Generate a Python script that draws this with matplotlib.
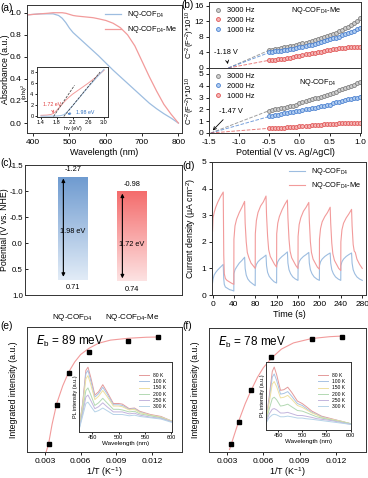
import matplotlib
matplotlib.use('Agg')
import matplotlib.pyplot as plt
import numpy as np

plt.rcParams['font.family'] = ['Liberation Sans', 'DejaVu Sans']
plt.rcParams['mathtext.default'] = 'regular'
plt.rcParams['axes.unicode_minus'] = False
plt.rcParams['axes.linewidth'] = 0.7
plt.rcParams['axes.edgecolor'] = '#333333'
for a in ('xtick', 'ytick'):
    plt.rcParams[a + '.major.size'] = 2.5
    plt.rcParams[a + '.major.width'] = 0.6
    plt.rcParams[a + '.labelsize'] = 6
    plt.rcParams[a + '.major.pad'] = 1.6
plt.rcParams['axes.labelsize'] = 6.5
plt.rcParams['axes.labelpad'] = 1.5

D4 = r'NQ-COF$_{D4}$'
D4Me = r'NQ-COF$_{D4}$-Me'

# ---------------- (a) absorbance ----------------
wl = [383, 400, 420, 440, 455, 470, 480, 490, 500, 510, 520, 535, 550, 565, 580, 600, 620, 640, 660, 680, 700, 720, 740, 760, 780, 800]
abs_d4 = [0.98, 0.985, 0.99, 0.99, 0.99, 0.975, 0.95, 0.91, 0.86, 0.82, 0.79, 0.745, 0.70, 0.655, 0.61, 0.545, 0.48, 0.42, 0.36, 0.30, 0.24, 0.18, 0.13, 0.085, 0.045, 0.0]
abs_me = [0.98, 0.985, 0.99, 0.995, 1.0, 1.0, 1.0, 0.995, 0.985, 0.975, 0.97, 0.965, 0.96, 0.955, 0.945, 0.93, 0.905, 0.865, 0.80, 0.70, 0.56, 0.42, 0.29, 0.17, 0.08, 0.0]
hv_me = [1.4, 1.55, 1.65, 1.72, 1.8, 1.9, 2.0, 2.1, 2.2, 2.4, 2.6, 2.8, 3.0]
tauc_me = [0.2, 0.25, 0.35, 0.55, 1.1, 1.9, 2.7, 3.4, 4.0, 5.0, 6.0, 7.1, 8.3]
hv_d4 = [1.4, 1.6, 1.8, 1.9, 1.98, 2.05, 2.1, 2.2, 2.4, 2.6, 2.8, 3.0]
tauc_d4 = [0.05, 0.05, 0.08, 0.15, 0.3, 0.7, 1.1, 1.9, 3.6, 5.3, 6.9, 8.5]
eg_me, eg_d4 = 1.72, 1.98

# ---------------- (b) Mott-Schottky ----------------
pot = [round(-0.5 + 0.05 * i, 2) for i in range(31)]
ms_me_3000 = [4.6, 4.75, 4.9, 5.0, 5.15, 5.3, 5.45, 5.6, 5.75, 5.95, 6.15, 6.35, 6.55, 6.75, 6.95, 7.2, 7.45, 7.7, 7.95, 8.2, 8.5, 8.8, 9.1, 9.45, 9.8, 10.2, 10.6, 11.1, 11.6, 12.2, 12.9]
ms_me_2000 = [2.0, 2.05, 2.1, 2.2, 2.3, 2.4, 2.55, 2.7, 2.85, 3.0, 3.2, 3.35, 3.5, 3.65, 3.8, 3.95, 4.1, 4.25, 4.4, 4.55, 4.7, 4.85, 4.95, 5.05, 5.15, 5.25, 5.3, 5.35, 5.4, 5.4, 5.35]
ms_me_1000 = [4.0, 4.15, 4.3, 4.4, 4.5, 4.6, 4.7, 4.85, 5.0, 5.15, 5.3, 5.45, 5.6, 5.8, 6.0, 6.2, 6.4, 6.6, 6.85, 7.1, 7.35, 7.6, 7.85, 8.1, 8.4, 8.7, 9.0, 9.3, 9.65, 10.0, 10.4]
ms_d4_3000 = [1.9, 1.95, 2.0, 2.05, 2.1, 2.15, 2.2, 2.25, 2.3, 2.4, 2.5, 2.6, 2.7, 2.8, 2.9, 2.95, 3.0, 3.05, 3.1, 3.2, 3.3, 3.4, 3.5, 3.6, 3.7, 3.8, 3.9, 4.0, 4.1, 4.2, 4.3]
ms_d4_2000 = [1.4, 1.45, 1.5, 1.55, 1.6, 1.65, 1.7, 1.75, 1.8, 1.85, 1.9, 1.95, 2.0, 2.05, 2.1, 2.15, 2.2, 2.25, 2.3, 2.35, 2.4, 2.5, 2.6, 2.65, 2.7, 2.8, 2.85, 2.9, 2.95, 3.0, 3.05]
ms_d4_1000 = [0.4, 0.41, 0.42, 0.43, 0.44, 0.46, 0.48, 0.5, 0.52, 0.54, 0.56, 0.58, 0.6, 0.62, 0.64, 0.66, 0.68, 0.7, 0.72, 0.74, 0.76, 0.78, 0.8, 0.81, 0.82, 0.83, 0.84, 0.85, 0.85, 0.86, 0.86]
efb_me, efb_d4 = -1.18, -1.47

# ---------------- (c) band positions ----------------
materials = [D4, D4Me]
cb = [-1.27, -0.98]
vb = [0.71, 0.74]
gaps = ['1.98 eV', '1.72 eV']

# ---------------- (d) photocurrent ----------------
t_me = [0, 1, 3, 6, 10, 15, 20, 21, 22, 24, 27, 31, 35, 39.8,
        40, 42, 45, 50, 55, 60, 61, 63, 65, 68, 72, 76, 79.8,
        80, 82, 85, 90, 95, 100, 101, 103, 105, 108, 112, 116, 119.8,
        120, 122, 125, 130, 135, 140, 141, 143, 145, 148, 152, 156, 159.8,
        160, 162, 165, 170, 175, 180, 181, 183, 185, 188, 192, 196, 199.8,
        200, 202, 205, 210, 215, 220, 221, 223, 225, 228, 232, 236, 239.8,
        240, 242, 245, 250, 255, 260, 261, 263, 265, 267, 270, 275, 280]
j_me = [2.4, 2.9, 3.1, 3.3, 3.5, 3.7, 3.87, 1.5, 0.8, 0.62, 0.55, 0.5, 0.45, 0.4,
        2.1, 2.6, 2.85, 3.1, 3.3, 3.52, 2.7, 2.0, 1.6, 1.4, 1.2, 1.1, 1.0,
        2.3, 2.8, 3.1, 3.35, 3.5, 3.72, 3.0, 2.2, 1.7, 1.45, 1.3, 1.15, 1.05,
        2.3, 2.7, 2.95, 3.2, 3.4, 3.57, 2.9, 2.1, 1.65, 1.4, 1.25, 1.1, 1.0,
        2.2, 2.65, 2.9, 3.15, 3.3, 3.48, 2.8, 2.0, 1.6, 1.35, 1.2, 1.05, 0.97,
        2.1, 2.5, 2.75, 2.95, 3.1, 3.3, 2.7, 1.95, 1.55, 1.3, 1.15, 1.0, 0.92,
        2.0, 2.45, 2.7, 2.9, 3.05, 3.22, 2.6, 1.9, 1.65, 1.6, 1.35, 1.15, 1.0]
t_d4 = [0, 1, 3, 6, 10, 15, 20, 21, 22, 24, 28, 32, 36, 39.8,
        40, 42, 45, 50, 55, 60, 61, 63, 66, 70, 75, 79.8,
        80, 82, 85, 90, 95, 100, 101, 103, 106, 110, 115, 119.8,
        120, 122, 125, 130, 135, 140, 141, 143, 146, 150, 155, 159.8,
        160, 162, 165, 170, 175, 180, 181, 183, 186, 190, 195, 199.8,
        200, 202, 205, 210, 215, 220, 221, 223, 226, 230, 235, 239.8,
        240, 242, 245, 250, 255, 260, 261, 263, 266, 270, 275, 280]
j_d4 = [0.45, 0.6, 0.75, 0.85, 0.95, 1.05, 1.15, 0.6, 0.4, 0.3, 0.25, 0.2, 0.18, 0.15,
        0.8, 0.95, 1.05, 1.2, 1.3, 1.42, 1.0, 0.75, 0.6, 0.5, 0.42, 0.35,
        1.0, 1.15, 1.25, 1.35, 1.42, 1.5, 1.1, 0.85, 0.7, 0.6, 0.5, 0.45,
        1.1, 1.25, 1.35, 1.45, 1.53, 1.62, 1.2, 0.95, 0.8, 0.68, 0.6, 0.55,
        1.1, 1.25, 1.35, 1.45, 1.52, 1.6, 1.2, 0.95, 0.8, 0.68, 0.6, 0.55,
        1.1, 1.25, 1.35, 1.45, 1.52, 1.58, 1.2, 0.95, 0.8, 0.68, 0.6, 0.55,
        1.1, 1.25, 1.35, 1.45, 1.52, 1.58, 1.2, 0.95, 0.8, 0.68, 0.6, 0.55]

# ---------------- (e)/(f) exciton binding ----------------
inv_T = [1 / 300, 1 / 250, 1 / 200, 1 / 150, 1 / 100, 1 / 80]
int_e = [0.066, 0.38, 0.63, 0.80, 0.89, 0.92]
int_f = [0.066, 0.24, 0.50, 0.77, 0.91, 0.93]
fit_e_x = [0.0031, 0.0033, 0.0036, 0.004, 0.0045, 0.005, 0.0055, 0.006, 0.0067, 0.0075, 0.0085, 0.01, 0.0115, 0.0125]
fit_e_y = [0.0, 0.06, 0.22, 0.39, 0.53, 0.64, 0.72, 0.78, 0.83, 0.87, 0.895, 0.91, 0.918, 0.92]
fit_f_x = [0.0032, 0.0035, 0.004, 0.0045, 0.005, 0.0055, 0.006, 0.0067, 0.0075, 0.0085, 0.01, 0.0115, 0.0125]
fit_f_y = [0.02, 0.11, 0.26, 0.39, 0.50, 0.60, 0.68, 0.76, 0.83, 0.88, 0.915, 0.93, 0.935]
temps = ['80 K', '100 K', '150 K', '200 K', '250 K', '300 K']
pl_wl = [425, 432, 438, 442, 447, 455, 462, 470, 478, 490, 500, 507, 520, 530, 540, 560, 580, 600]
pl_e = [
    [0.05, 0.45, 0.95, 1.0, 0.85, 0.57, 0.62, 0.73, 0.62, 0.44, 0.44, 0.43, 0.36, 0.37, 0.32, 0.27, 0.24, 0.17],
    [0.05, 0.43, 0.9, 0.95, 0.8, 0.54, 0.59, 0.69, 0.59, 0.42, 0.42, 0.41, 0.35, 0.36, 0.31, 0.26, 0.23, 0.17],
    [0.05, 0.40, 0.82, 0.87, 0.74, 0.50, 0.55, 0.64, 0.55, 0.40, 0.40, 0.39, 0.34, 0.35, 0.30, 0.26, 0.23, 0.17],
    [0.04, 0.33, 0.64, 0.68, 0.58, 0.41, 0.45, 0.52, 0.45, 0.35, 0.35, 0.34, 0.31, 0.32, 0.28, 0.25, 0.22, 0.16],
    [0.04, 0.29, 0.54, 0.57, 0.49, 0.36, 0.39, 0.45, 0.39, 0.31, 0.31, 0.31, 0.28, 0.29, 0.26, 0.23, 0.21, 0.16],
    [0.03, 0.25, 0.44, 0.46, 0.40, 0.31, 0.33, 0.37, 0.33, 0.27, 0.27, 0.27, 0.25, 0.26, 0.24, 0.22, 0.20, 0.15]]
pl_f = [
    [0.15, 0.55, 0.93, 1.0, 0.88, 0.63, 0.64, 0.68, 0.6, 0.46, 0.42, 0.38, 0.3, 0.26, 0.22, 0.18, 0.14, 0.1],
    [0.14, 0.5, 0.84, 0.89, 0.79, 0.57, 0.58, 0.61, 0.54, 0.42, 0.39, 0.35, 0.28, 0.25, 0.21, 0.17, 0.14, 0.1],
    [0.14, 0.45, 0.73, 0.77, 0.69, 0.51, 0.52, 0.55, 0.49, 0.39, 0.36, 0.33, 0.27, 0.24, 0.2, 0.17, 0.14, 0.1],
    [0.13, 0.34, 0.5, 0.52, 0.48, 0.38, 0.39, 0.41, 0.37, 0.31, 0.3, 0.28, 0.24, 0.21, 0.19, 0.16, 0.13, 0.1],
    [0.12, 0.26, 0.33, 0.34, 0.32, 0.27, 0.27, 0.28, 0.26, 0.23, 0.23, 0.22, 0.2, 0.18, 0.17, 0.15, 0.12, 0.09],
    [0.11, 0.2, 0.24, 0.25, 0.24, 0.21, 0.21, 0.22, 0.21, 0.19, 0.19, 0.18, 0.17, 0.16, 0.15, 0.13, 0.11, 0.09]]

# ---------------- styles ----------------
C_BLUE = '#9dbde0'
C_RED = '#f29b9b'
T_COLORS = ['#e49a9a', '#a9c3e3', '#efe0a0', '#b3d9b3', '#c3b5dd', '#b6d3e8']

fig = plt.figure(figsize=(3.68, 4.78), dpi=100)
W, H = 368.0, 478.0


def ax_px(l, t, r, b):
    return fig.add_axes([l / W, 1 - b / H, (r - l) / W, (b - t) / H])


def plabel(x, y, s):
    fig.text(x / W, 1 - y / H, s, fontsize=7.3, va='center', ha='left')


def ylab_at(a, text, xpx, fs=6.3):
    # centre of the rotated y label at figure pixel column xpx
    a.set_ylabel(text, fontsize=fs, va='center')
    pos = a.get_position()
    a.yaxis.set_label_coords((xpx / W - pos.x0) / pos.width, 0.5)


# ---- (a)
ax = ax_px(27, 5, 182, 133)
ax.plot(wl, abs_d4, color=C_BLUE, lw=0.9, label=D4)
ax.plot(wl, abs_me, color=C_RED, lw=0.9, label=D4Me)
ax.set_xlim(383, 810)
ax.set_ylim(-0.09, 1.07)
ax.set_xticks([400, 500, 600, 700, 800])
ax.set_yticks([0.0, 0.2, 0.4, 0.6, 0.8, 1.0])
ax.set_xlabel('Wavelength (nm)')
ylab_at(ax, 'Absorbance (a.u.)', 6)
ax.legend(loc='upper right', frameon=False, fontsize=5.3, handlelength=2.2,
          borderaxespad=0.2, labelspacing=0.5)
plabel(0, 8, '(a)')

ins = ax_px(37, 67, 108, 117)
ins.plot(hv_me, tauc_me, color=C_RED, lw=0.7)
ins.plot(hv_d4, tauc_d4, color=C_BLUE, lw=0.7)
ins.plot([eg_me, 2.25], [0, 5.6], color='#333333', lw=0.5, ls='--')
ins.plot([eg_d4, 2.9], [0, 8.0], color='#333333', lw=0.5, ls='--')
ins.set_xlim(1.3, 3.1)
ins.set_ylim(-0.1, 8.9)
ins.set_xticks([1.4, 1.8, 2.2, 2.6, 3.0])
ins.set_yticks([0, 2, 4, 6, 8])
ins.tick_params(labelsize=4, length=1.5, pad=1)
ins.set_xlabel('hv (eV)', fontsize=4, labelpad=0.5)
ins.set_ylabel(r'$(\alpha hv)^2$', fontsize=4, labelpad=0.5)
ins.annotate('1.72 eV', xy=(eg_me, 0.1), xytext=(1.45, 1.8), fontsize=3.8, color='#e04040',
             arrowprops=dict(arrowstyle='->', color='#e04040', lw=0.5))
ins.annotate('1.98 eV', xy=(eg_d4 + 0.02, 0.4), xytext=(2.3, 0.5), fontsize=3.8, color='#3070c0',
             arrowprops=dict(arrowstyle='->', color='#3070c0', lw=0.5))

# ---- (b)
MS_GRAY, MS_RED, MS_BLUE = '#7f7f7f', '#e05555', '#4a80d0'
MF_GRAY, MF_RED, MF_BLUE = '#cfcfcf', '#f5b5b5', '#b0cdf0'


def ms_plot(axm, y, c, fc, lab, efb):
    axm.plot([efb, pot[0]], [0, y[0]], ls='--', color=c, lw=0.7, alpha=0.75)
    axm.plot(pot, y, ls='none', marker='o', ms=2.8, mec=c, mfc=fc, mew=0.6, label=lab)


bt = ax_px(209, 2, 361, 68)
ms_plot(bt, ms_me_3000, MS_GRAY, MF_GRAY, '3000 Hz', efb_me)
ms_plot(bt, ms_me_2000, MS_RED, MF_RED, '2000 Hz', efb_me)
ms_plot(bt, ms_me_1000, MS_BLUE, MF_BLUE, '1000 Hz', efb_me)
bt.set_xlim(-1.5, 1.02)
bt.set_ylim(0, 17)
bt.set_yticks([0, 4, 8, 12, 16])
bt.set_xticks([-1.5, -1.0, -0.5, 0.0, 0.5, 1.0])
bt.tick_params(labelbottom=False)
ylab_at(bt, r'C$^{-2}$(F$^{-2}$)*10$^{10}$', 190, 5.6)
bt.legend(loc='upper left', frameon=False, fontsize=5.3, handlelength=1.0, handletextpad=0.8,
          labelspacing=0.35, borderaxespad=0.3)
bt.text(0.27, 14.7, D4Me, fontsize=5.3, ha='center', va='center')
bt.annotate('-1.18 V', xy=(efb_me, 0.3), xytext=(-1.42, 3.6), fontsize=5.3,
            arrowprops=dict(arrowstyle='->', color='black', lw=0.6))

bb = ax_px(209, 68, 361, 133)
ms_plot(bb, ms_d4_3000, MS_GRAY, MF_GRAY, '3000 Hz', efb_d4)
ms_plot(bb, ms_d4_2000, MS_BLUE, MF_BLUE, '2000 Hz', efb_d4)
ms_plot(bb, ms_d4_1000, MS_RED, MF_RED, '1000 Hz', efb_d4)
bb.set_xlim(-1.5, 1.02)
bb.set_ylim(0, 5.5)
bb.set_yticks([0, 1, 2, 3, 4, 5])
bb.set_xticks([-1.5, -1.0, -0.5, 0.0, 0.5, 1.0])
bb.set_xlabel('Potential (V vs. Ag/AgCl)')
ylab_at(bb, r'C$^{-2}$(F$^{-2}$)*10$^{10}$', 190, 5.6)
bb.legend(loc='upper left', frameon=False, fontsize=5.3, handlelength=1.0, handletextpad=0.8,
          labelspacing=0.35, borderaxespad=0.3)
bb.text(0.3, 4.3, D4, fontsize=5.3, ha='center', va='center')
bb.annotate('-1.47 V', xy=(efb_d4, 0.05), xytext=(-1.33, 1.7), fontsize=5.3,
            arrowprops=dict(arrowstyle='->', color='black', lw=0.6))
plabel(181, 5, '(b)')

# ---- (c)
axc = ax_px(25, 165, 182, 295)
grad = np.linspace(0, 1, 256).reshape(-1, 1)
cmaps = [matplotlib.colors.LinearSegmentedColormap.from_list('b', ['#6f9bd0', '#e2ecf7']),
         matplotlib.colors.LinearSegmentedColormap.from_list('r', ['#f46c6c', '#fde3e3'])]
bw = 0.5
for i in range(2):
    axc.imshow(grad, extent=(i - bw / 2, i + bw / 2, vb[i], cb[i]), origin='upper',
               aspect='auto', cmap=cmaps[i], zorder=1)
    axc.annotate('', xy=(i - 0.16, cb[i] + 0.03), xytext=(i - 0.16, vb[i] - 0.06),
                 arrowprops=dict(arrowstyle='<|-|>', color='black', lw=0.8, mutation_scale=5,
                                 shrinkA=0, shrinkB=0))
    axc.text(i, cb[i] - 0.08, f'{cb[i]:.2f}', ha='center', va='bottom', fontsize=5.3)
    axc.text(i, vb[i] + 0.08, f'{vb[i]:.2f}', ha='center', va='top', fontsize=5.3)
axc.text(0.0, -0.23, gaps[0], ha='center', va='center', fontsize=5.3)
axc.text(1.0, 0.02, gaps[1], ha='center', va='center', fontsize=5.3)
axc.set_xlim(-0.81, 1.85)
axc.set_ylim(1.0, -1.5)
axc.set_yticks([-1.5, -1.0, -0.5, 0.0, 0.5, 1.0])
axc.tick_params(axis='y', direction='in', labelsize=5.7, pad=1.5)
axc.set_xticks([0, 1])
axc.set_xticklabels(materials, fontsize=5.8)
axc.tick_params(axis='x', length=0, pad=12)
ylab_at(axc, 'Potential (V vs. NHE)', 5)
plabel(0, 163, '(c)')

# ---- (d)
axd = ax_px(212, 162, 366, 295)
axd.plot(t_d4, j_d4, color=C_BLUE, lw=0.8, label=D4)
axd.plot(t_me, j_me, color=C_RED, lw=0.8, label=D4Me)
axd.set_xlim(-1, 287)
axd.set_ylim(0, 5)
axd.set_xticks([0, 40, 80, 120, 160, 200, 240, 280])
axd.set_yticks([0, 1, 2, 3, 4, 5])
axd.set_xlabel('Time (s)')
ylab_at(axd, r'Current density ($\mu$A cm$^{-2}$)', 191)
axd.legend(loc='upper right', frameon=False, fontsize=5.3, handlelength=2.2,
           borderaxespad=0.2, labelspacing=0.4)
plabel(182, 166, '(d)')


# ---- (e)/(f)
def eb_panel(box, ib, pts, fx, fy, pl, eb, lab, lpos, ylx):
    a = ax_px(*box)
    a.plot(fx, fy, color=C_RED, lw=0.8)
    a.plot(inv_T, pts, ls='none', marker='s', ms=2.6, color='black')
    a.set_xlim(0.0015, 0.0145)
    a.set_ylim(0, 1.0)
    a.set_xticks([0.003, 0.006, 0.009, 0.012])
    a.set_xticklabels(['0.003', '0.006', '0.009', '0.012'])
    a.set_yticks([])
    a.set_xlabel(r'1/T (K$^{-1}$)', labelpad=0.5)
    ylab_at(a, 'Integrated intensity (a.u.)', ylx)
    a.text(0.06, 0.885, r'$\mathit{E}_{b}$ = ' + eb, transform=a.transAxes, fontsize=8.5,
           va='center')
    plabel(lpos[0], lpos[1], lab)
    i2 = ax_px(*ib)
    for k in range(len(temps)):
        i2.plot(pl_wl, pl[k], color=T_COLORS[k], lw=0.7, label=temps[k])
    i2.set_xlim(425, 601)
    i2.set_ylim(0, 1.08)
    i2.set_xticks([450, 500, 550, 600])
    i2.set_yticks([])
    i2.tick_params(labelsize=4, length=1.5, pad=1)
    i2.set_xlabel('Wavelength (nm)', fontsize=4.5, labelpad=0.5)
    i2.set_ylabel('PL intensity (a.u.)', fontsize=4, labelpad=1)
    i2.legend(loc='upper right', frameon=False, fontsize=3.6, handlelength=2.0,
              labelspacing=0.25, borderaxespad=0.8, bbox_to_anchor=(1.0, 0.93))
    return a


eb_panel((27, 327, 182, 452), (79, 362, 172, 432), int_e, fit_e_x, fit_e_y, pl_e, '89 meV', '(e)', (0, 326), 14)
eb_panel((209, 328, 366, 452), (266, 362, 351, 430), int_f, fit_f_x, fit_f_y, pl_f, '78 meV', '(f)', (182, 326), 196)

fig.savefig('out.png', dpi=100)
